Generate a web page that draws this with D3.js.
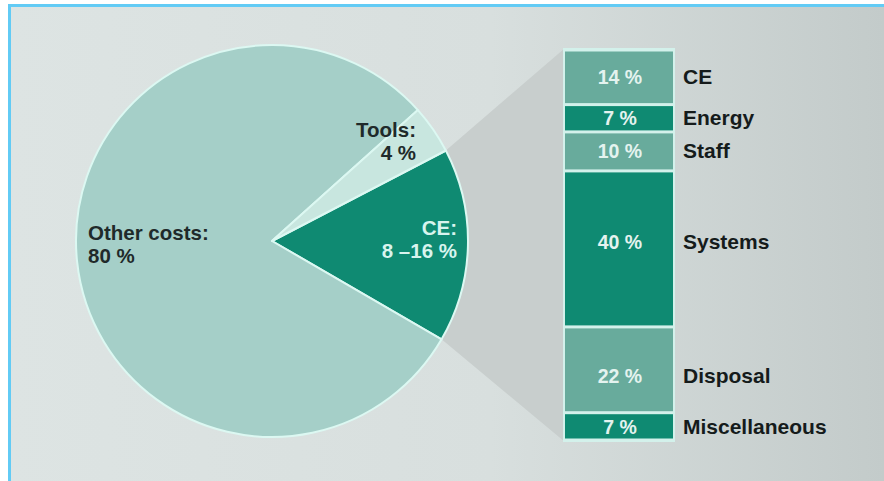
<!DOCTYPE html>
<html>
<head>
<meta charset="utf-8">
<script src="https://cdn.jsdelivr.net/npm/d3@7"></script>
<style>
  html, body { margin: 0; padding: 0; background: #ffffff; }
  svg { display: block; }
</style>
</head>
<body>
<svg id="chart" width="884" height="481"></svg>
<script>
// Cost share of the whole process (pie)
const pieCategories = ["CE", "Other costs", "Tools"];
const pieValues = [16, 80, 4];
const pieLabels = [["CE:", "8 \u201316 %"], ["Other costs:", "80 %"], ["Tools:", "4 %"]];

// Breakdown of the CE share (stacked column)
const stackCategories = ["CE", "Energy", "Staff", "Systems", "Disposal", "Miscellaneous"];
const stackValues = [14, 7, 10, 40, 22, 7];
const stackValueLabels = ["14 %", "7 %", "10 %", "40 %", "22 %", "7 %"];

const W = 884, H = 481;
const svg = d3.select("#chart");
const font = "'Liberation Sans', Arial, Helvetica, sans-serif";

// background with a soft horizontal shading
const defs = svg.append("defs");
const bg = defs.append("linearGradient").attr("id", "bg").attr("x1", 0).attr("x2", 1).attr("y1", 0).attr("y2", 0);
bg.append("stop").attr("offset", 0).attr("stop-color", "#dde4e3");
bg.append("stop").attr("offset", 0.55).attr("stop-color", "#d8dfde");
bg.append("stop").attr("offset", 1).attr("stop-color", "#c3cbca");

svg.append("rect").attr("x", 10).attr("y", 5).attr("width", W - 10).attr("height", H - 5).attr("fill", "url(#bg)");
// blue frame on top and left
svg.append("rect").attr("x", 8).attr("y", 4).attr("width", W - 8).attr("height", 3).attr("fill", "#62cbf5");
svg.append("rect").attr("x", 8).attr("y", 4).attr("width", 3).attr("height", H - 4).attr("fill", "#62cbf5");

// pie geometry
const cx = 272, cy = 241, r = 196;
const start = 62.5 * Math.PI / 180;
const pie = d3.pie().sort(null).value(d => d).startAngle(start).endAngle(start + 2 * Math.PI);
const arcs = pie(pieValues);
const arc = d3.arc().innerRadius(0).outerRadius(r);
const pieColors = ["#0f8a72", "#a5cfc8", "#c8e6df"];

// stacked column scale
const stackX0 = 565, stackX1 = 673;
const y = d3.scaleLinear().domain([0, d3.sum(stackValues)]).range([50, 440]);
const cum = d3.cumsum(stackValues);
const segs = stackValues.map((v, i) => ({ v, i, y0: y(cum[i] - v), y1: y(cum[i]) }));

// connector from the CE slice to the column
const ce = arcs[0];
const pt = a => [cx + r * Math.sin(a), cy - r * Math.cos(a)];
const pA = pt(ce.startAngle), pB = pt(ce.endAngle);
svg.append("path")
  .attr("d", d3.line()([[cx, cy], pA, [stackX0, y(0) - 2], [stackX0, y(d3.sum(stackValues)) + 2], pB]) + "Z")
  .attr("fill", "#c8cecd");

// pie slices
const g = svg.append("g").attr("transform", `translate(${cx},${cy})`);
g.selectAll("path.slice").data(arcs).join("path")
  .attr("class", "slice")
  .attr("d", arc)
  .attr("fill", (d, i) => pieColors[i])
  .attr("stroke", "#dcf8f2")
  .attr("stroke-width", 2)
  .attr("stroke-linejoin", "round");

// pie labels
const pieLabelPos = [
  { x: 457, y: 235, anchor: "end", fill: "#d8f4ee" },
  { x: 88, y: 240, anchor: "start", fill: "#1f2a2a" },
  { x: 416, y: 137, anchor: "end", fill: "#1f2a2a" }
];
pieLabels.forEach((lines, i) => {
  const p = pieLabelPos[i];
  const t = svg.append("text")
    .attr("x", p.x).attr("y", p.y)
    .attr("text-anchor", p.anchor)
    .attr("fill", p.fill)
    .attr("font-family", font).attr("font-weight", "bold").attr("font-size", 20.5);
  lines.forEach((s, k) => t.append("tspan").attr("x", p.x).attr("dy", k === 0 ? 0 : 22.5).text(s));
});

// column segments
const segColors = ["#68ab9c", "#0f8a72", "#68ab9c", "#0f8a72", "#68ab9c", "#0f8a72"];
svg.append("rect")
  .attr("x", stackX0 - 2).attr("y", y(0) - 2)
  .attr("width", stackX1 - stackX0 + 4).attr("height", y(100) - y(0) + 4)
  .attr("fill", "#d3f1eb");
svg.selectAll("rect.seg").data(segs).join("rect")
  .attr("class", "seg")
  .attr("x", stackX0).attr("width", stackX1 - stackX0)
  .attr("y", d => d.y0 + 1.5)
  .attr("height", d => d.y1 - d.y0 - 3)
  .attr("fill", d => segColors[d.i]);

// text sits slightly above centre in the two tall segments
const textY = d => (d.y0 + d.y1) / 2 + 7 + (d.i === 3 ? -7 : d.i === 4 ? 6 : d.i === 5 ? 1 : 0);

svg.selectAll("text.val").data(segs).join("text")
  .attr("class", "val")
  .attr("x", (stackX0 + stackX1) / 2 + 1)
  .attr("y", textY)
  .attr("text-anchor", "middle")
  .attr("fill", "#e4f3ef")
  .attr("font-family", font).attr("font-weight", "bold").attr("font-size", 19.5)
  .text(d => stackValueLabels[d.i]);

svg.selectAll("text.cat").data(segs).join("text")
  .attr("class", "cat")
  .attr("x", 683)
  .attr("y", textY)
  .attr("fill", "#151b1b")
  .attr("font-family", font).attr("font-weight", "bold").attr("font-size", 21)
  .text(d => stackCategories[d.i]);
</script>
</body>
</html>
